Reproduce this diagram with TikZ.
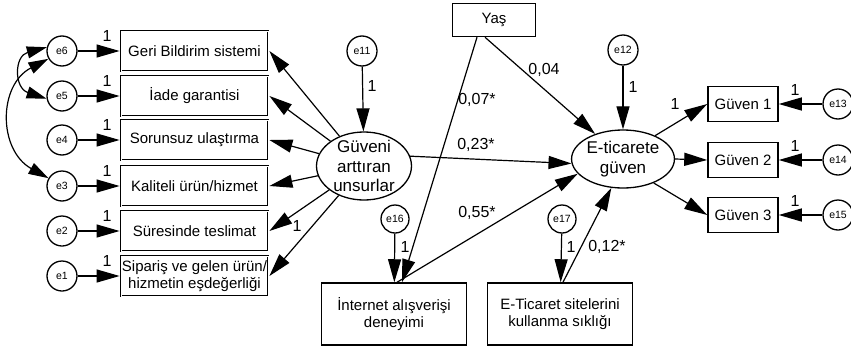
\documentclass[tikz,border=0pt]{standalone}
\usepackage{fontspec}
\setmainfont{Liberation Sans}
\usepackage{tikz}
\usetikzlibrary{shapes,arrows.meta,calc}
\tikzstyle{tsText} = [ 
    text=black, 
    font=\fontsize{15}{17}\selectfont
]
\tikzstyle{tsItem} = [ 
    rectangle,
    tsText,
    align=center,
    draw=black,
    line width=2.8pt,
    postaction={draw=white, line width=0.9pt},
    minimum width=147pt,
    minimum height=40pt,
    inner sep=0.5pt]
\tikzstyle{tsBox} = [ 
    rectangle,
    tsText,
    align=center,
    draw=black,
    line width=1.5pt]
\tikzstyle{tsErr} = [ 
    circle,
    draw=black,
    fill=white,
    line width=1.3pt,
    minimum size=30pt,
    inner sep=0pt,
    font=\fontsize{10.5}{12}\selectfont]
\tikzstyle{tsLatent} = [ 
    ellipse,
    draw=black,
    line width=1.3pt,
    align=center,
    inner xsep=0pt,
    inner ysep=-6pt,
    text=black,
    font=\fontsize{17}{19.5}\selectfont]
\tikzstyle{tsLabel} = [ 
    text=black,
    inner sep=0pt,
    font=\fontsize{16}{18}\selectfont]
\tikzstyle{tsArrow} = [ 
    draw=black,
    line width=1.2pt,
    -{Triangle[length=23pt,width=13pt]}]

\begin{document}
\begin{tikzpicture}[x=1pt, y=-1pt]

    \useasboundingbox (0,0) rectangle (851,351);

    % observed items on the left
    \node[tsItem] (geri) at (194.5,51) {Geri Bildirim sistemi};
    \node[tsItem] (iade) at (194.5,96) {İade garantisi};
    \node[tsItem] (sorun) at (194.5,140) {Sorunsuz ulaştırma};
    \node[tsItem] (kalite) at (194.5,186) {Kaliteli ürün/hizmet};
    \node[tsItem] (sure) at (194.5,231) {Süresinde teslimat};
    \node[tsItem] (siparis) at (194.5,276) {Sipariş ve gelen ürün/\\hizmetin eşdeğerliği};

    \node[tsErr] (e6) at (62,51) {e6};
    \node[tsErr] (e5) at (62,96) {e5};
    \node[tsErr] (e4) at (62,140) {e4};
    \node[tsErr] (e3) at (62,186) {e3};
    \node[tsErr] (e2) at (62,231) {e2};
    \node[tsErr] (e1) at (62,276) {e1};

    \draw[tsArrow] (e6) -- (geri);
    \draw[tsArrow] (e5) -- (iade);
    \draw[tsArrow] (e4) -- (sorun);
    \draw[tsArrow] (e3) -- (kalite);
    \draw[tsArrow] (e2) -- (sure);
    \draw[tsArrow] (e1) -- (siparis);

    \node[tsLabel] (l6) at (107,36) {1};
    \node[tsLabel] (l5) at (107,81) {1};
    \node[tsLabel] (l4) at (107,125) {1};
    \node[tsLabel] (l3) at (107,171) {1};
    \node[tsLabel] (l2) at (107,216) {1};
    \node[tsLabel] (l1) at (107,261) {1};

    % covariances
    \draw[line width=1.2pt, {Triangle[length=20pt,width=12pt]}-{Triangle[length=20pt,width=12pt]}]
        (e6.166) .. controls (14,56) and (14,88) .. (e5.190);
    \draw[line width=1.2pt, {Triangle[length=20pt,width=12pt]}-{Triangle[length=20pt,width=12pt]}]
        (e6.210) .. controls (-2,85) and (-2,150) .. (e3.150);

    % latent factors
    \node[tsLatent, minimum width=95pt, minimum height=68pt] (guv) at (364,166) {Güveni\\arttıran\\unsurlar};
    \node[tsLatent, minimum width=94pt, minimum height=58pt] (etg) at (623,159) {E-ticarete\\güven};

    \node[tsErr] (e11) at (362,51) {e11};
    \node[tsErr] (e12) at (623,50) {e12};
    \draw[tsArrow] (e11) -- (guv);
    \draw[tsArrow] (e12) -- (etg);
    \node[tsLabel] (l11) at (372,86) {1};
    \node[tsLabel] (l12) at (633,87) {1};

    \draw[tsArrow] (guv) -- (geri.east);
    \draw[tsArrow] (guv) -- (iade.east);
    \draw[tsArrow] (guv) -- (sorun.east);
    \draw[tsArrow] (guv) -- (kalite.east);
    \draw[tsArrow] (guv) -- (sure.east);
    \draw[tsArrow] (guv) -- (siparis.east);
    \node[tsLabel] (lsure) at (297,226) {1};

    % control variables
    \node[tsBox, minimum width=83pt, minimum height=33pt] (yas) at (494,20) {Yaş};
    \node[tsBox, minimum width=145pt, minimum height=62pt] (net) at (394,314) {İnternet alışverişi\\deneyimi};
    \node[tsBox, minimum width=145pt, minimum height=62pt] (tic) at (560,314) {E-Ticaret sitelerini\\kullanma sıklığı};

    \node[tsErr, minimum size=28pt] (e16) at (395,219) {e16};
    \node[tsErr, minimum size=28pt] (e17) at (562,219) {e17};
    \draw[tsArrow] (e16) -- (net);
    \draw[tsArrow] (e17) -- (tic);
    \node[tsLabel] (l16) at (405,247) {1};
    \node[tsLabel] (l17) at (571,247) {1};

    % structural paths
    \draw[tsArrow] ([xshift=-17pt]yas.south) -- ([xshift=8pt]net.north);
    \draw[tsArrow] ([xshift=-9pt]yas.south) -- (etg.138);
    \draw[tsArrow] (guv.12) -- (etg.185);
    \draw[tsArrow] ([xshift=3pt]net.north) -- (etg.198);
    \draw[tsArrow] ([xshift=3pt]tic.north) -- (etg.248);

    \node[tsLabel] (p07) at (477,100) {0,07*};
    \node[tsLabel] (p04) at (544,70) {0,04};
    \node[tsLabel] (p23) at (476,145) {0,23*};
    \node[tsLabel] (p55) at (477,213) {0,55*};
    \node[tsLabel] (p12) at (607,247) {0,12*};

    % indicators on the right
    \node[tsBox, minimum width=70pt, minimum height=35pt] (g1) at (743,104) {Güven 1};
    \node[tsBox, minimum width=70pt, minimum height=35pt] (g2) at (743,160) {Güven 2};
    \node[tsBox, minimum width=70pt, minimum height=35pt] (g3) at (743,215) {Güven 3};

    \node[tsErr] (e13) at (838,104) {e13};
    \node[tsErr] (e14) at (838,160) {e14};
    \node[tsErr] (e15) at (838,215) {e15};

    \draw[tsArrow] (etg.36) -- (g1.west);
    \draw[tsArrow] (etg.east) -- (g2.west);
    \draw[tsArrow] (etg.-38) -- (g3.west);
    \node[tsLabel] (lg1) at (675,104) {1};

    \draw[tsArrow] (e13) -- (g1);
    \draw[tsArrow] (e14) -- (g2);
    \draw[tsArrow] (e15) -- (g3);
    \node[tsLabel] (l13) at (795,90) {1};
    \node[tsLabel] (l14) at (795,146) {1};
    \node[tsLabel] (l15) at (795,201) {1};

\end{tikzpicture}
\end{document}
